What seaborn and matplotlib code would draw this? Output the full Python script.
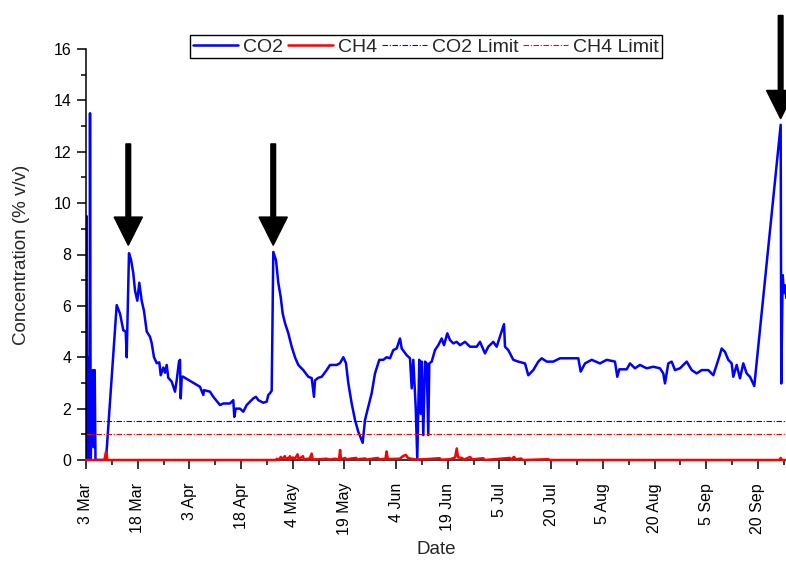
import numpy as np
import pandas as pd
import seaborn as sns
import matplotlib.pyplot as plt
from matplotlib.ticker import FixedLocator

# days since 3 Mar
co2_day = [0, 0.15, 0.39, 0.75, 1.05, 1.2, 1.41, 1.79, 2.09, 2.3, 2.6, 2.84, 5.98,
           9.18, 10.17, 11.16, 11.88, 12.17, 12.86, 13.46, 14.15, 14.66, 15.35, 15.94,
           16.66, 17.35, 18.16, 19.14, 19.65, 20.34, 21.15, 21.93, 22.35, 23.12, 23.63,
           24.14, 24.62, 25.64, 26.62, 27.13, 27.82, 28.12, 28.33, 28.63, 28.93, 34.1,
           35.09, 35.3, 37.09, 38.08, 40.08, 41.07, 43.07, 44.06, 44.36, 44.78, 46.07,
           47.05, 48.07, 49.06, 50.04, 50.85, 51.54, 53.04, 54.05, 54.53, 55.04, 55.55,
           56.03, 56.84, 57.52, 58.24, 58.84, 59.53, 60.51, 61.53, 62.52, 63.51, 65.0,
           66.5, 67.51, 68.2, 68.5, 69.49, 70.51, 72.0, 72.99, 74.99, 75.98, 76.97,
           77.77, 78.46, 79.48, 80.47, 81.45, 82.77, 83.46, 84.45, 85.46, 86.45, 87.74,
           88.93, 89.94, 90.94, 91.92, 92.94, 93.93, 94.44, 95.93, 96.92, 97.43, 97.91,
           98.62, 99.1, 99.7, 100.12, 100.42, 100.9, 101.41, 101.91, 102.39, 102.69,
           103.41, 104.4, 105.38, 106.4, 107.09, 108.08, 108.88, 109.87, 110.89, 111.88,
           113.37, 114.87, 116.87, 117.86, 119.35, 120.34, 121.84, 122.85, 125.04,
           125.34, 126.32, 127.82, 129.32, 131.32, 132.31, 133.8, 135.3, 136.32, 137.81,
           139.78, 141.79, 144.78, 147.26, 147.98, 149.27, 151.27, 153.75, 155.76,
           158.24, 158.93, 159.53, 161.74, 162.73, 164.22, 165.72, 167.72, 169.7, 171.7,
           172.69, 173.2, 174.19, 175.2, 176.19, 177.69, 179.69, 181.19, 182.68, 184.18,
           186.15, 187.65, 188.66, 189.44, 190.16, 191.15, 192.13, 193.15, 193.63,
           194.65, 195.63, 196.62, 197.64, 198.62, 199.91, 207.81, 207.99, 208.41,
           208.8, 209.1, 209.5]
co2_val = [0, 9.5, 0, 4.0, 0, 13.5, 0, 2.0, 3.5, 0.5, 3.5, 0, 0,
           6.03, 5.7, 5.05, 5.0, 4.0, 8.05, 7.8, 7.27, 6.6, 6.2, 6.9,
           6.2, 5.8, 5.0, 4.8, 4.55, 4.0, 3.77, 3.8, 3.3, 3.6, 3.4,
           3.7, 3.2, 3.05, 2.66, 3.1, 3.83, 3.9, 2.4, 3.2, 3.25, 2.85,
           2.53, 2.72, 2.66, 2.46, 2.14, 2.2, 2.2, 2.33, 1.68, 2.0, 2.0,
           1.88, 2.14, 2.27, 2.4, 2.46, 2.33, 2.23, 2.27, 2.53, 2.6, 2.7,
           8.1, 7.78, 6.9, 6.35, 5.7, 5.33, 4.94, 4.41, 4.0, 3.7, 3.5,
           3.24, 3.19, 2.46, 3.1, 3.2, 3.24, 3.5, 3.7, 3.7, 3.77, 4.0,
           3.77, 3.0, 2.2, 1.56, 1.1, 0.67, 1.56, 2.07, 2.6, 3.37, 3.9,
           3.9, 4.0, 3.96, 4.28, 4.34, 4.73, 4.34, 4.08, 3.96, 2.79, 3.9,
           2.07, 0.05, 3.9, 1.8, 3.83, 0.97, 3.83, 3.76, 0.97, 3.76,
           3.83, 4.28, 4.47, 4.73, 4.47, 4.93, 4.67, 4.54, 4.6, 4.47,
           4.6, 4.41, 4.41, 4.6, 4.15, 4.41, 4.6, 4.41, 5.29,
           4.41, 4.28, 3.9, 3.83, 3.76, 3.3, 3.5, 3.83, 3.96, 3.83,
           3.83, 3.96, 3.96, 3.96, 3.44, 3.76, 3.9, 3.76, 3.9,
           3.83, 3.24, 3.53, 3.53, 3.76, 3.57, 3.7, 3.57, 3.63, 3.57,
           3.37, 2.98, 3.76, 3.83, 3.5, 3.57, 3.83, 3.5, 3.37, 3.5,
           3.5, 3.3, 3.7, 4.02, 4.34, 4.21, 3.9, 3.76, 3.24,
           3.7, 3.18, 3.76, 3.37, 3.24, 2.88, 13.05, 2.98, 7.2,
           6.5, 6.8, 6.3]

ch4_day = [0, 5.5, 5.98, 6.4, 56.8, 57.1, 57.6, 58.3, 58.6, 59.5, 59.8, 60.4, 60.7,
           61.0, 61.3, 61.9, 62.4, 63.3, 63.6, 64.9, 65.2, 66.4, 66.8, 67.5, 67.8,
           70.0, 71.8, 73.0, 74.5, 75.7, 76.0, 76.3, 77.5, 78.0, 79.0, 80.8, 81.2,
           82.0, 83.5, 84.0, 85.6, 87.3, 87.8, 89.6, 89.9, 90.3, 91.5, 93.9, 94.8,
           95.7, 96.3, 97.2, 98.7, 101.4, 105.8, 106.3, 108.9, 110.4, 110.9, 111.3,
           112.5, 113.0, 114.9, 115.5, 118.8, 119.3, 126.8, 127.2, 128.0, 128.6,
           130.1, 130.7, 138.2, 138.8, 207.4, 207.8, 208.2, 209.5]
ch4_val = [0, 0, 0.32, 0, 0, 0.05, 0, 0.12, 0.02, 0.15, 0.03, 0.08, 0.02,
           0.15, 0.03, 0.1, 0.03, 0.22, 0.03, 0.15, 0.02, 0.05, 0.02, 0.25, 0.02,
           0.03, 0.05, 0.02, 0.05, 0.02, 0.39, 0.03, 0.08, 0.02, 0.05, 0.08, 0.02,
           0.04, 0.06, 0.02, 0.05, 0.08, 0.02, 0.05, 0.33, 0.04, 0.04, 0.05, 0.15,
           0.2, 0.08, 0.05, 0.02, 0.03, 0.07, 0.01, 0.03, 0.1, 0.45, 0.1,
           0.08, 0.01, 0.12, 0.02, 0.07, 0, 0.08, 0.01, 0.12, 0.02,
           0.06, 0, 0.03, 0, 0, 0.08, 0, 0]

co2_limit = 1.5
ch4_limit = 1.0

tick_labels = ['3 Mar', '18 Mar', '3 Apr', '18 Apr', '4 May', '19 May', '4 Jun',
               '19 Jun', '5 Jul', '20 Jul', '5 Aug', '20 Aug', '5 Sep', '20 Sep']
tick_span = 201  # 3 Mar -> 20 Sep in days

# arrows: (day, tail value, tip value)
arrow_day = [12.65, 56.0, 207.8]
arrow_tail = [12.3, 12.3, 17.3]
arrow_tip = [8.37, 8.37, 13.3]

sns.set_style('ticks')
plt.rcParams['font.family'] = ['Liberation Sans', 'DejaVu Sans']

fig = plt.figure(figsize=(7.86, 5.61), dpi=100)
ax = fig.add_axes([86 / 786, 101 / 561, 700 / 786, 411 / 561])

sns.lineplot(x=co2_day, y=co2_val, ax=ax, color='#0000ff', lw=1.8,
             estimator=None, sort=False, label='CO2')
sns.lineplot(x=ch4_day, y=ch4_val, ax=ax, color='#ff0000', lw=1.8,
             estimator=None, sort=False, label='CH4')
ax.lines[1].set_clip_on(False)
ax.lines[1].set_zorder(3)
ax.axhline(co2_limit, color='#0000ff', lw=0.8, ls=(0, (5, 1.5, 1, 1.5)), label='CO2 Limit')
ax.axhline(ch4_limit, color='#ff0000', lw=0.8, ls=(0, (5, 1.5, 1, 1.5)), label='CH4 Limit')

for d, t0, t1 in zip(arrow_day, arrow_tail, arrow_tip):
    ax.annotate('', xy=(d, t1), xytext=(d, t0), annotation_clip=False,
                arrowprops=dict(facecolor='black', edgecolor='black', width=3.2,
                                headwidth=20, headlength=20, shrink=0,
                                lw=1.2, joinstyle='round', capstyle='round'))

ax.set_xlim(0, 209.4)
ax.set_ylim(0, 16)

major = [i * tick_span / 13 for i in range(14)]
ax.xaxis.set_major_locator(FixedLocator(major))
ax.xaxis.set_minor_locator(FixedLocator([m + tick_span / 26 for m in major]))
ax.set_xticklabels(tick_labels, rotation=90)
ax.set_yticks(range(0, 17, 2))
ax.set_yticks(range(1, 17, 2), minor=True)

ax.tick_params(axis='both', which='major', length=6.5, width=1.1, labelsize=11.5,
               color='black', labelcolor='black', direction='out')
ax.tick_params(axis='both', which='minor', length=3.5, width=1.1, color='black',
               direction='out')
ax.tick_params(axis='x', which='major', pad=10)
ax.tick_params(axis='y', which='major', pad=4)

sns.despine(ax=ax)
for s in ['left', 'bottom']:
    ax.spines[s].set_linewidth(1.1)
    ax.spines[s].set_color('black')

ax.set_xlabel('Date', fontsize=13.5, labelpad=4)
ax.set_ylabel('Concentration (% v/v)', fontsize=13.5, labelpad=17)

leg = ax.legend(loc='upper center', bbox_to_anchor=(426 / 786, 1 - 35 / 561),
                bbox_transform=fig.transFigure, ncol=4, fontsize=14,
                frameon=True, fancybox=False, shadow=False, handlelength=2.3,
                handletextpad=0.26, columnspacing=0.26, borderpad=0.15,
                borderaxespad=0)
leg.get_frame().set_edgecolor('black')
leg.get_frame().set_linewidth(1.0)
leg.get_frame().set_alpha(1)

fig.savefig('out.png', dpi=100)
